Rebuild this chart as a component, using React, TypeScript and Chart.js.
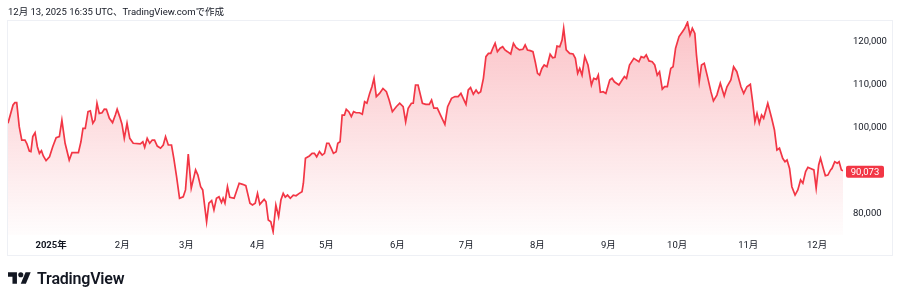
import React, { useEffect, useRef } from "react";
import { Chart, registerables } from "chart.js";

Chart.register(...registerables);

// Day offsets from 2025-01-01 and BTC/USD prices
const days: number[] = [
  -18.8, -16.6, -15.8, -15.0, -13.9, -12.8, -11.4, -10.6, -9.5, -8.8, -8.0, -7.0, -6.0, -5.1, -4.2, -3.4, -2.2, -0.7,
  0.7, 2.2, 3.6, 4.7, 6.1, 7.9, 9.1, 11.9, 13.0, 13.9, 14.9, 16.1, 17.1, 18.2, 19.1, 20.0, 21.0, 22.2, 23.2, 24.1,
  25.4, 26.8, 28.0, 28.8, 29.9, 30.9, 31.9, 33.1, 34.3, 35.8, 38.9, 40.0, 40.8, 41.9, 43.0, 44.1, 45.1, 46.3, 47.7,
  48.9, 49.9, 51.1, 52.5, 53.5, 54.7, 56.0, 57.6, 58.6, 59.8, 61.1, 63.0, 64.0, 65.2, 66.1, 67.8, 68.8, 70.0, 71.0,
  72.1, 73.2, 74.3, 75.0, 75.8, 76.9, 77.9, 79.8, 82.0, 83.5, 84.9, 86.7, 87.8, 89.0, 90.0, 91.0, 92.9, 93.7, 94.7,
  95.8, 96.8, 98.0, 99.2, 100.2, 101.2, 102.1, 103.1, 104.3, 105.6, 106.8, 108.2, 109.4, 110.0, 110.9, 112.6, 113.8,
  114.8, 115.8, 117.0, 118.2, 119.2, 120.2, 121.1, 122.1, 123.1, 124.3, 125.0, 126.0, 126.9, 127.9, 128.7, 129.8,
  130.9, 131.9, 133.0, 134.5, 135.7, 136.7, 137.7, 138.9, 139.9, 140.8, 141.8, 143.2, 144.7, 146.2, 147.4, 148.8,
  150.5, 152.0, 153.5, 154.6, 155.7, 157.1, 157.9, 158.9, 160.0, 161.9, 163.4, 164.9, 165.9, 166.9, 168.4, 169.8,
  171.7, 172.9, 174.6, 176.1, 177.5, 178.7, 179.7, 180.9, 181.9, 182.9, 184.1, 185.3, 186.3, 187.3, 188.5, 189.6,
  190.7, 191.7, 192.6, 193.6, 194.6, 195.8, 196.9, 197.9, 199.0, 200.4, 201.6, 202.7, 204.2, 205.7, 206.7, 207.7,
  208.9, 210.1, 211.1, 212.1, 213.0, 214.0, 215.0, 216.2, 217.6, 218.7, 219.7, 220.6, 221.8, 222.8, 223.5, 224.6,
  226.1, 227.6, 228.6, 229.6, 230.5, 231.5, 232.7, 234.1, 235.6, 236.6, 237.8, 238.6, 239.5, 240.7, 241.9, 243.6,
  244.6, 245.6, 247.6, 249.0, 250.0, 250.9, 252.2, 254.1, 256.3, 257.3, 258.5, 259.5, 260.7, 262.1, 263.2, 264.3,
  265.3, 266.5, 267.5, 268.7, 270.2, 271.2, 272.3, 273.8, 275.3, 276.3, 277.5, 278.6, 279.6, 280.7, 281.4, 282.6,
  283.6, 284.8, 286.2, 287.7, 288.8, 290.3, 291.8, 293.5, 294.7, 296.4, 297.6, 299.0, 300.8, 302.0, 303.4, 304.9,
  305.9, 306.9, 307.8, 308.8, 309.8, 310.7, 312.5, 314.2, 315.4, 316.5, 317.6, 319.0, 320.0, 320.9, 322.0, 323.0,
  324.4, 325.6, 326.8, 327.8, 329.0, 330.0, 331.2, 332.6, 333.6, 334.7, 335.5, 336.7, 337.6, 338.7, 339.9, 340.5,
  341.7, 342.8, 343.6, 344.6, 345.3,
];

const prices: number[] = [
  101090, 105350, 105900, 105900, 100300, 97200, 97200, 96400, 94650, 94500, 98000, 98900, 95650, 94100, 94700, 93500, 92400, 93300,
  95650, 97750, 98000, 101850, 96450, 92550, 94250, 94250, 96800, 99900, 99900, 103800, 104000, 101100, 101850, 105750, 103400, 103550, 104400, 104350,
  102250, 101250, 103000, 104350, 102650, 100900, 97600, 101100, 97600, 96450, 96300, 96800, 95500, 97600, 96450, 97200, 97200, 95800, 95300,
  96050, 98000, 96050, 96050, 92950, 88700, 83650, 84000, 85600, 93950, 86000, 90250, 89050, 86350, 85600, 78200, 82500, 83100, 80950,
  83650, 84000, 82650, 83650, 82500, 86350, 83900, 83650, 87150, 86900, 86600, 82500, 82100, 82500, 84800, 82250, 83400, 82850, 78600,
  78200, 75900, 82100, 79400, 83250, 84800, 83900, 84400, 83650, 84400, 84250, 84800, 85200, 87150, 92950, 93500, 94100,
  94100, 93300, 94500, 93700, 94100, 96450, 96450, 95300, 94100, 94500, 96450, 96800, 103000, 103000, 104350, 103800,
  102650, 103800, 103550, 103550, 103200, 106100, 105750, 108050, 109600, 111550, 107300, 108050, 109200, 108450, 106500, 103800,
  104950, 105750, 104950, 101450, 104600, 105750, 105750, 110000, 110000, 105750, 105500, 105500, 106500, 104600, 104600, 103000,
  100850, 104950, 106900, 107300, 107300, 108050, 106900, 105500, 108850, 109400, 107850, 108850, 108050, 108450, 111550, 116600,
  117350, 117350, 118550, 119700, 117750, 118550, 118900, 118150, 117750, 117200, 119700, 118750, 118150, 118300, 119300, 118150,
  118000, 117750, 115400, 112700, 112300, 113850, 114650, 114250, 117150, 116350, 116450, 119050, 118900, 120450, 123200, 118150,
  117350, 117200, 116200, 112700, 113850, 112300, 116600, 114650, 110000, 111550, 111300, 112300, 108300, 108450, 108050, 111150,
  111550, 110750, 110000, 111150, 111950, 111550, 114650, 116200, 115400, 116600, 116350, 117000, 115600, 115400, 114650, 112300,
  113100, 109050, 109600, 109600, 113850, 114250, 118550, 121250, 122400, 123200, 124600, 121650, 123200, 122000, 117000, 110750,
  114650, 115050, 111950, 108450, 106300, 107650, 110400, 107450, 109600, 111150, 114250, 113100, 109600, 108050, 109600, 110150,
  106100, 101450, 103400, 101100, 103000, 102250, 105750, 102250, 99550, 94900, 95300, 92950, 92150, 92550, 90600, 86350,
  84400, 85600, 87900, 87150, 89850, 90850, 90600, 90250, 86000, 91400, 92950, 90600, 88900, 89050, 90250, 90600,
  92150, 91800, 92150, 90250, 90073,
];

const monthTickDays: number[] = [0, 31, 59, 90, 120, 151, 181, 212, 243, 273, 304, 334];
const monthTickLabels: string[] = ["2025年", "2月", "3月", "4月", "5月", "6月", "7月", "8月", "9月", "10月", "11月", "12月"];
const priceTicks: number[] = [80000, 100000, 110000, 120000];
const headerText = "12月 13, 2025 16:35 UTC、TradingView.comで作成";

const RED = "#f23645";
const TEXT = "#131722";
const FONT = "Roboto, 'Noto Sans CJK JP', 'Noto Sans', sans-serif";

export default function App() {
  const ref = useRef<HTMLCanvasElement | null>(null);

  useEffect(() => {
    if (!ref.current) return;
    const points = days.map((d, i) => ({ x: d, y: prices[i] }));

    const lastLabel = {
      id: "lastLabel",
      afterDraw(chart: any) {
        const { ctx, scales } = chart;
        const last = prices[prices.length - 1];
        const y = scales.y.getPixelForValue(last);
        ctx.save();
        ctx.fillStyle = RED;
        const x0 = 846, w = 38, h = 12;
        ctx.beginPath();
        (ctx as any).roundRect ? (ctx as any).roundRect(x0, y - h / 2 + 1, w, h, 2) : ctx.rect(x0, y - h / 2 + 1, w, h);
        ctx.fill();
        ctx.fillStyle = "#ffffff";
        ctx.font = `9.5px ${FONT}`;
        ctx.textAlign = "center";
        ctx.textBaseline = "middle";
        ctx.fillText(last.toLocaleString("en-US"), x0 + w / 2, y + 1.5);
        ctx.restore();
      },
    };

    const frame = {
      id: "frame",
      afterDraw(chart: any) {
        const { ctx } = chart;
        ctx.save();
        ctx.strokeStyle = "#eef0f5";
        ctx.lineWidth = 1;
        ctx.strokeRect(7.5, 20.5, 885, 235);
        ctx.restore();
      },
    };

    const chart = new Chart(ref.current, {
      type: "line",
      data: {
        datasets: [
          {
            data: points,
            borderColor: RED,
            borderWidth: 1.7,
            pointRadius: 0,
            tension: 0,
            fill: "start",
            backgroundColor: (c: any) => {
              const area = c.chart.chartArea;
              if (!area) return "rgba(242,54,69,0.2)";
              const g = c.chart.ctx.createLinearGradient(0, area.top, 0, area.bottom);
              g.addColorStop(0, "rgba(242,54,69,0.30)");
              g.addColorStop(1, "rgba(242,54,69,0.01)");
              return g;
            },
          },
        ],
      },
      options: {
        animation: false,
        responsive: false,
        devicePixelRatio: 1,
        layout: { padding: { left: 8, top: 20, right: 8, bottom: 45 } },
        plugins: { legend: { display: false }, tooltip: { enabled: false } },
        scales: {
          x: {
            type: "linear",
            min: days[0],
            max: days[days.length - 1],
            grid: { display: false, drawTicks: false },
            border: { display: false },
            afterBuildTicks: (s: any) => {
              s.ticks = monthTickDays.map((v) => ({ value: v }));
            },
            afterFit: (s: any) => {
              s.height = 20;
            },
            ticks: {
              autoSkip: false,
              maxRotation: 0,
              padding: 5,
              color: TEXT,
              font: (c: any) => ({
                family: FONT,
                size: 9.5,
                weight: c.tick && c.tick.value === 0 ? "bold" : "normal",
              }),
              callback: (v: any) => {
                const i = monthTickDays.indexOf(Number(v));
                return i >= 0 ? monthTickLabels[i] : "";
              },
            },
          },
          y: {
            position: "right",
            min: 75116,
            max: 125116,
            grid: { display: false, drawTicks: false },
            border: { display: false },
            afterBuildTicks: (s: any) => {
              s.ticks = priceTicks.map((v) => ({ value: v }));
            },
            afterFit: (s: any) => {
              s.width = 49;
            },
            ticks: {
              padding: 10,
              color: TEXT,
              font: { family: FONT, size: 9.5 },
              callback: (v: any) => Number(v).toLocaleString("en-US"),
            },
          },
        },
      },
      plugins: [frame, lastLabel],
    } as any);

    return () => chart.destroy();
  }, []);

  return (
    <div style={{ position: "absolute", left: 0, top: 0, width: 900, height: 300, background: "#ffffff", overflow: "hidden" }}>
      <canvas ref={ref} width={900} height={300} style={{ position: "absolute", left: 0, top: 0, width: 900, height: 300 }} />
      <div
        style={{
          position: "absolute",
          left: 8,
          top: 5,
          fontFamily: FONT,
          fontSize: 9.5,
          color: TEXT,
          lineHeight: "14px",
          whiteSpace: "nowrap",
        }}
      >
        {headerText}
      </div>
      <div style={{ position: "absolute", left: 8, top: 268, display: "flex", alignItems: "center", height: 20 }}>
        <svg width={23} height={12} viewBox="0 4 36 18" style={{ display: "block" }}>
          <path d="M14 22H7V11H0V4h14v18z" fill={TEXT} />
          <circle cx={20} cy={8} r={4} fill={TEXT} />
          <path d="M28 22h-8l7.5-18h8L28 22z" fill={TEXT} />
        </svg>
        <span
          style={{
            marginLeft: 6,
            fontFamily: FONT,
            fontSize: 16,
            fontWeight: 600,
            color: TEXT,
            letterSpacing: "-0.2px",
          }}
        >
          TradingView
        </span>
      </div>
    </div>
  );
}
